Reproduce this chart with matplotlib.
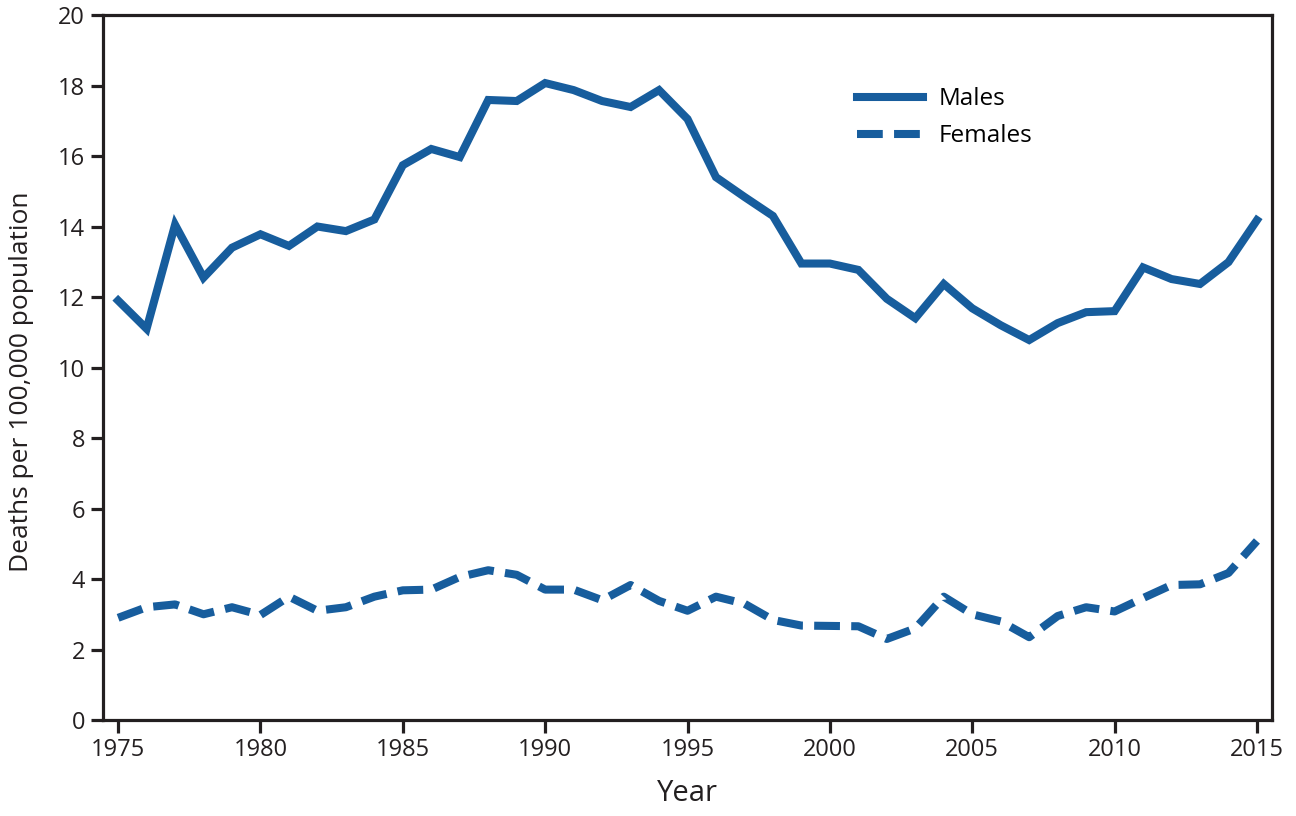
import numpy as np
import matplotlib.pyplot as plt

years = list(range(1975, 2016))

males = [11.9, 11.1, 14.05, 12.55, 13.4, 13.78, 13.45, 14.0, 13.87, 14.2,
         15.74, 16.2, 15.97, 17.59, 17.56, 18.07, 17.87, 17.56, 17.39, 17.87,
         17.05, 15.4, 14.84, 14.3, 12.95, 12.95, 12.77, 11.95, 11.4, 12.37,
         11.68, 11.2, 10.78, 11.26, 11.57, 11.6, 12.84, 12.51, 12.37, 12.99,
         14.18]

females = [2.9, 3.2, 3.28, 3.0, 3.2, 2.98, 3.5, 3.1, 3.2, 3.5,
           3.68, 3.7, 4.06, 4.25, 4.12, 3.7, 3.7, 3.4, 3.83, 3.38,
           3.1, 3.5, 3.3, 2.84, 2.68, 2.67, 2.66, 2.3, 2.6, 3.5,
           3.0, 2.8, 2.35, 2.95, 3.2, 3.08, 3.46, 3.83, 3.85, 4.17,
           5.08]

BLUE = "#175d9d"
INK = "#231f20"
plt.rcParams["font.family"] = ["Open Sans", "DejaVu Sans"]

fig = plt.figure(figsize=(12.96, 8.16), dpi=100)
ax = fig.add_axes([0.0795, 0.1176, 0.902, 0.864])

ax.plot(years, males, color=BLUE, lw=5.8, label="Males", solid_joinstyle="miter")
ax.plot(years, females, color=BLUE, lw=5.8, label="Females", dashes=(3.2, 1.4))

ax.set_xlim(1974.47, 2015.53)
ax.set_ylim(0, 20)
ax.set_xticks(range(1975, 2016, 5))
ax.set_yticks(range(0, 21, 2))

for s in ax.spines.values():
    s.set_linewidth(2.3)
    s.set_color(INK)
ax.tick_params(direction="out", length=9, width=2.3, labelsize=17,
               color=INK, labelcolor=INK, pad=4)

ax.set_xlabel("Year", fontsize=21, color=INK, labelpad=12)
ax.set_ylabel("Deaths per 100,000 population", fontsize=19, color=INK)
ax.yaxis.set_label_coords(-0.059, 0.48)

ax.legend(loc="upper left", bbox_to_anchor=(0.635, 0.915), frameon=False,
          fontsize=17.5, handlelength=2.7, handletextpad=0.65, labelspacing=0.55,
          borderpad=0)

fig.savefig("out.png", dpi=100)
